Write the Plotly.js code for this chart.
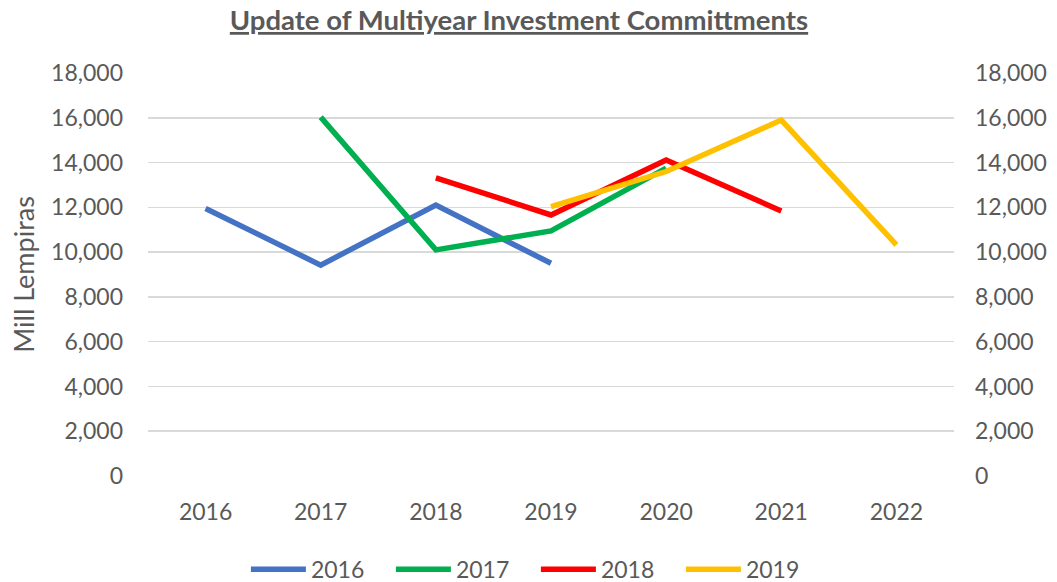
<!DOCTYPE html>
<html>
<head>
<meta charset="utf-8">
<script src="https://cdn.plot.ly/plotly-3.0.1.min.js"></script>
<style>html,body{margin:0;padding:0;background:#fff;}#chart{width:1057px;height:582px;}</style>
</head>
<body>
<div id="chart"></div>
<script>
const years = ["2016","2017","2018","2019","2020","2021","2022"];
const s2016 = [11950, 9420, 12100, 9500, null, null, null];
const s2017 = [null, 16030, 10100, 10950, 13750, null, null];
const s2018 = [null, null, 13320, 11660, 14110, 11840, null];
const s2019 = [null, null, null, 12030, 13600, 15900, 10320];
const seriesNames = ["2016","2017","2018","2019"];
const seriesColors = ["#4472C4","#00B050","#FF0000","#FFC000"];
const yTicks = [0,2000,4000,6000,8000,10000,12000,14000,16000,18000];

const font = "Lato, 'Open Sans', sans-serif";
const allSeries = [s2016, s2017, s2018, s2019];
const traces = allSeries.map((s, i) => ({
  type: "scatter", mode: "lines", x: years, y: s, name: seriesNames[i],
  line: {color: seriesColors[i], width: 5.5}, connectgaps: false
}));
// invisible trace for right axis
traces.push({type:"scatter", mode:"lines", x: years, y: s2019, yaxis:"y2", showlegend:false, hoverinfo:"skip", line:{color:"rgba(0,0,0,0)", width:0}});

const tickText = yTicks.map(v => v.toLocaleString("en-US"));
const layout = {
  width: 1057, height: 582,
  margin: {l:148, r:103, t:73, b:106},
  paper_bgcolor:"#fff", plot_bgcolor:"#fff",
  font: {family: font, color:"#595959", size:23},
  title: {text:"<b><u>Update of Multiyear Investment Committments</u></b>", x:0.491, xref:"container", xanchor:"center", y:0.965, yref:"container", yanchor:"middle", font:{size:27.5, color:"#595959", family:font}},
  xaxis: {type:"category", range:[-0.5,6.5], showgrid:false, zeroline:false, showline:false, ticks:"", tickfont:{size:23, color:"#595959"}, ticklabelstandoff:20},
  yaxis: {range:[0,18000], tickvals:yTicks, ticktext:tickText, showgrid:true, gridcolor:"#d9d9d9", gridwidth:1.6, zeroline:false, showline:false, ticks:"", tickfont:{size:23, color:"#595959"}, ticklabelstandoff:24,
    title:{text:"Mill Lempiras", font:{size:27, color:"#595959"}, standoff:8}},
  yaxis2: {overlaying:"y", side:"right", range:[0,18000], tickvals:yTicks, ticktext:tickText, showgrid:false, zeroline:false, showline:false, ticks:"", tickfont:{size:23, color:"#595959"}, ticklabelstandoff:20},
  legend: {orientation:"h", x:0.507, xref:"container", xanchor:"center", y:0.022, yref:"container", yanchor:"middle", font:{size:23, color:"#595959"}, itemwidth:55, entrywidth:75, entrywidthmode:"pixels", tracegroupgap:0},
  showlegend: true
};
Plotly.newPlot("chart", traces, layout, {displayModeBar:false, staticPlot:true});
</script>
</body>
</html>
